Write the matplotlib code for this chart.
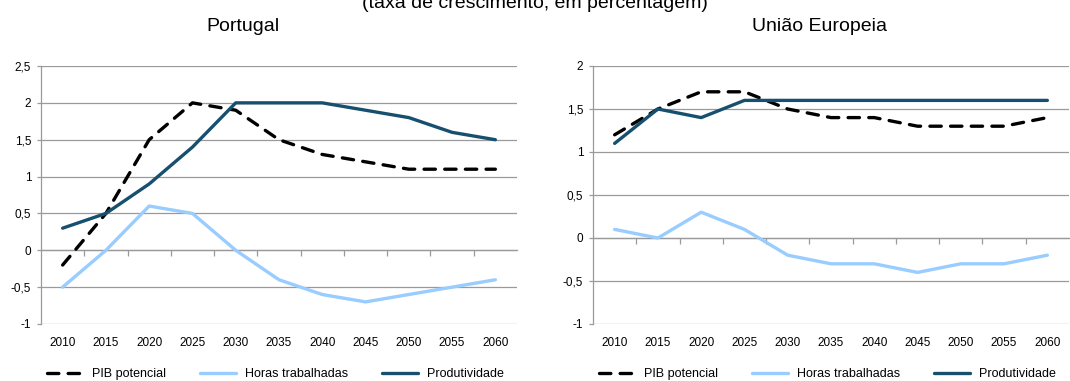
import matplotlib
matplotlib.use("Agg")
import matplotlib.pyplot as plt
from matplotlib.ticker import FixedLocator, NullFormatter

plt.rcParams['font.family'] = ['Liberation Sans', 'DejaVu Sans']

# Data
years = ["2010", "2015", "2020", "2025", "2030", "2035", "2040", "2045", "2050", "2055", "2060"]

pt_pib = [-0.2, 0.5, 1.5, 2.0, 1.9, 1.5, 1.3, 1.2, 1.1, 1.1, 1.1]
pt_horas = [-0.5, 0.0, 0.6, 0.5, 0.0, -0.4, -0.6, -0.7, -0.6, -0.5, -0.4]
pt_prod = [0.3, 0.5, 0.9, 1.4, 2.0, 2.0, 2.0, 1.9, 1.8, 1.6, 1.5]

ue_pib = [1.2, 1.5, 1.7, 1.7, 1.5, 1.4, 1.4, 1.3, 1.3, 1.3, 1.4]
ue_horas = [0.1, 0.0, 0.3, 0.1, -0.2, -0.3, -0.3, -0.4, -0.3, -0.3, -0.2]
ue_prod = [1.1, 1.5, 1.4, 1.6, 1.6, 1.6, 1.6, 1.6, 1.6, 1.6, 1.6]

pt_yticks = [-1, -0.5, 0, 0.5, 1, 1.5, 2, 2.5]
pt_ylabels = ["-1", "-0,5", "0", "0,5", "1", "1,5", "2", "2,5"]
ue_yticks = [-1, -0.5, 0, 0.5, 1, 1.5, 2]
ue_ylabels = ["-1", "-0,5", "0", "0,5", "1", "1,5", "2"]

series_names = ["PIB potencial", "Horas trabalhadas", "Produtividade"]

C_DARK = "#17506F"
C_LIGHT = "#99CCFF"
C_GRID = "#9A9A9A"

W, H = 1070, 381
fig = plt.figure(figsize=(W / 100, H / 100), dpi=100)

legend_font = {'family': ['Liberation Sans', 'DejaVu Sans'], 'size': 9}


def panel(left_px, ylim, yticks, ylabels, pib, horas, prod, title, title_x):
    ax = fig.add_axes([left_px / W, (H - 324) / H, 476 / W, 258 / H])
    x = list(range(len(years)))
    ax.set_xlim(-0.5, len(years) - 0.5)
    ax.set_ylim(*ylim)

    ax.set_yticks(yticks)
    ax.set_yticklabels(ylabels)
    ax.grid(axis='y', color=C_GRID, lw=0.9)
    ax.set_axisbelow(True)

    ax.set_xticks(x)
    ax.set_xticklabels(years)
    ax.tick_params(axis='x', length=0, pad=9, labelsize=8.5)
    ax.tick_params(axis='y', length=3, color=C_GRID, width=0.9, pad=4, labelsize=8.5)

    for s in ['top', 'right', 'bottom']:
        ax.spines[s].set_visible(False)
    ax.spines['left'].set_color(C_GRID)
    ax.spines['left'].set_linewidth(0.9)

    l1, = ax.plot(x, pib, color='black', lw=2.4, dashes=(3.4, 2.8),
                  dash_capstyle='round', label=series_names[0], zorder=3)
    l2, = ax.plot(x, horas, color=C_LIGHT, lw=2.4, label=series_names[1],
                  solid_capstyle='round', zorder=3)
    l3, = ax.plot(x, prod, color=C_DARK, lw=2.4, label=series_names[2],
                  solid_capstyle='round', zorder=4)

    # category-boundary ticks on the zero line
    tw = ax.twiny()
    tw.set_xlim(ax.get_xlim())
    tw.set_ylim(ax.get_ylim())
    tw.spines['bottom'].set_position(('data', 0))
    tw.spines['bottom'].set_color(C_GRID)
    tw.spines['bottom'].set_linewidth(0.9)
    for s in ['top', 'right', 'left']:
        tw.spines[s].set_visible(False)
    tw.xaxis.set_ticks_position('bottom')
    tw.xaxis.set_major_locator(FixedLocator([i + 0.5 for i in range(len(years) - 1)]))
    tw.xaxis.set_major_formatter(NullFormatter())
    tw.tick_params(axis='x', length=4, color=C_GRID, width=0.9, direction='out')
    tw.set_zorder(ax.get_zorder() - 1)
    ax.patch.set_visible(False)

    fig.text(title_x / W, 1 - 31 / H, title, ha='center', va='baseline', fontsize=14)

    ax.legend(handles=[l1, l2, l3], loc='center left', ncol=3,
              bbox_to_anchor=((left_px + 6) / W, 1 - 374 / H),
              bbox_transform=fig.transFigure, frameon=False,
              prop=legend_font, handlelength=2.9, handletextpad=0.7,
              columnspacing=2.7, borderaxespad=0, borderpad=0)
    return ax


panel(41, (-1, 2.5), pt_yticks, pt_ylabels, pt_pib, pt_horas, pt_prod, "Portugal", 243)
panel(593, (-1, 2), ue_yticks, ue_ylabels, ue_pib, ue_horas, ue_prod, "União Europeia", 820)

fig.text(535 / W, 1 - 8 / H, "(taxa de crescimento, em percentagem)",
         ha='center', va='baseline', fontsize=14)

fig.savefig("out.png", dpi=100)
